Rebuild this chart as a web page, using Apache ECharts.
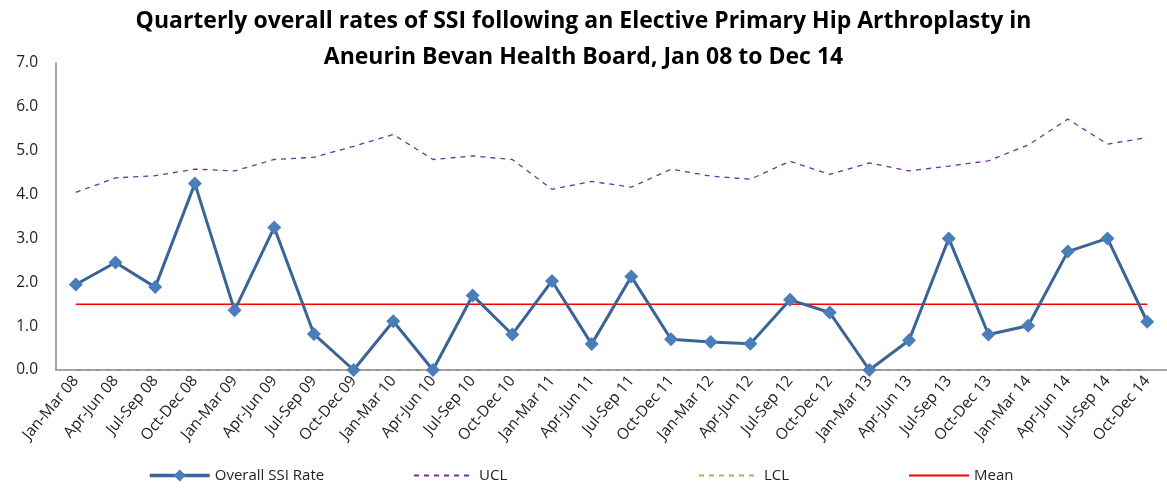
<!DOCTYPE html>
<html>
<head>
<meta charset="utf-8">
<script src="https://cdn.jsdelivr.net/npm/echarts@6/dist/echarts.min.js"></script>
<style>
  html, body { margin: 0; padding: 0; background: #fff; }
  #chart { width: 1167px; height: 488px; }
</style>
</head>
<body>
<div id="chart"></div>
<script>
// quarters shown on the x axis
var quarters = [
  'Jan-Mar 08', 'Apr-Jun 08', 'Jul-Sep 08', 'Oct-Dec 08',
  'Jan-Mar 09', 'Apr-Jun 09', 'Jul-Sep 09', 'Oct-Dec 09',
  'Jan-Mar 10', 'Apr-Jun 10', 'Jul-Sep 10', 'Oct-Dec 10',
  'Jan-Mar 11', 'Apr-Jun 11', 'Jul-Sep 11', 'Oct-Dec 11',
  'Jan-Mar 12', 'Apr-Jun 12', 'Jul-Sep 12', 'Oct-Dec 12',
  'Jan-Mar 13', 'Apr-Jun 13', 'Jul-Sep 13', 'Oct-Dec 13',
  'Jan-Mar 14', 'Apr-Jun 14', 'Jul-Sep 14', 'Oct-Dec 14'
];
var ssiRate = [1.95, 2.45, 1.89, 4.25, 1.36, 3.25, 0.82, 0.0,
  1.11, 0.0, 1.70, 0.81, 2.03, 0.59, 2.13, 0.70,
  0.64, 0.60, 1.60, 1.31, 0.0, 0.68, 3.00, 0.81,
  1.01, 2.70, 3.00, 1.10];
var ucl = [4.05, 4.38, 4.43, 4.58, 4.54, 4.80, 4.85, 5.10,
  5.37, 4.80, 4.88, 4.80, 4.12, 4.30, 4.17, 4.58,
  4.42, 4.35, 4.76, 4.46, 4.72, 4.54, 4.65, 4.77,
  5.13, 5.72, 5.15, 5.30];
var lcl = [0, 0, 0, 0, 0, 0, 0, 0, 0, 0, 0, 0, 0, 0,
  0, 0, 0, 0, 0, 0, 0, 0, 0, 0, 0, 0, 0, 0];
var mean = [1.5, 1.5, 1.5, 1.5, 1.5, 1.5, 1.5, 1.5, 1.5, 1.5, 1.5, 1.5, 1.5, 1.5,
  1.5, 1.5, 1.5, 1.5, 1.5, 1.5, 1.5, 1.5, 1.5, 1.5, 1.5, 1.5, 1.5, 1.5];

var font = '"Open Sans", Lato, sans-serif';
var myChart = echarts.init(document.getElementById('chart'));

// one legend per series so each can sit where Excel put it
function legendAt(name, left, withMarker) {
  return {
    data: [{ name: name }],
    left: left,
    bottom: 0,
    itemWidth: 60,
    itemHeight: 15,
    itemGap: 8,
    itemStyle: withMarker ? {} : { opacity: 0 },
    lineStyle: withMarker ? { width: 3.5 } : {},
    textStyle: { fontFamily: font, fontSize: 15, color: '#222' }
  };
}

var option = {
  animation: false,
  title: {
    text: 'Quarterly overall rates of SSI following an Elective Primary Hip Arthroplasty in\nAneurin Bevan Health Board, Jan 08 to Dec 14',
    left: 'center',
    top: -2,
    textStyle: { fontFamily: font, fontSize: 23, fontWeight: 'bold', color: '#000', lineHeight: 36 }
  },
  legend: [
    legendAt('Overall SSI Rate', 143, true),
    legendAt('UCL', 408, false),
    legendAt('LCL', 693, false),
    legendAt('Mean', 903, false)
  ],
  grid: { left: 56, top: 63, width: 1116, height: 307 },
  xAxis: {
    type: 'category',
    data: quarters,
    boundaryGap: true,
    z: 2,
    axisLine: { lineStyle: { color: '#888', width: 1.5 } },
    axisTick: { show: false },
    axisLabel: { interval: 0, rotate: 50, margin: 8, fontFamily: font, fontSize: 15.5, color: '#222' }
  },
  yAxis: {
    type: 'value',
    min: 0,
    max: 7,
    interval: 1,
    splitLine: { show: false },
    axisLine: { show: true, lineStyle: { color: '#888', width: 1.5 } },
    axisTick: { show: false },
    axisLabel: { margin: 18, fontFamily: font, fontSize: 15.5, color: '#222',
      formatter: function (v) { return v.toFixed(1); } }
  },
  series: [
    {
      name: 'Overall SSI Rate',
      type: 'line',
      data: ssiRate,
      z: 4,
      symbol: 'diamond',
      symbolSize: 14,
      lineStyle: { color: '#3a6496', width: 3 },
      itemStyle: { color: '#4a7ebb' }
    },
    {
      name: 'UCL',
      type: 'line',
      data: ucl,
      symbol: 'none',
      lineStyle: { color: '#7030a0', width: 1.3, type: [5, 5] },
      itemStyle: { color: '#7030a0' }
    },
    {
      name: 'LCL',
      type: 'line',
      data: lcl,
      z: 1,
      symbol: 'none',
      lineStyle: { color: '#9bbb59', width: 1.3, type: [5, 5] },
      itemStyle: { color: '#9bbb59' }
    },
    {
      name: 'Mean',
      type: 'line',
      data: mean,
      symbol: 'none',
      lineStyle: { color: '#ff0000', width: 1.5 },
      itemStyle: { color: '#ff0000' }
    }
  ]
};
myChart.setOption(option);
window.addEventListener('resize', function () {
  myChart.resize();
});
</script>
</body>
</html>
